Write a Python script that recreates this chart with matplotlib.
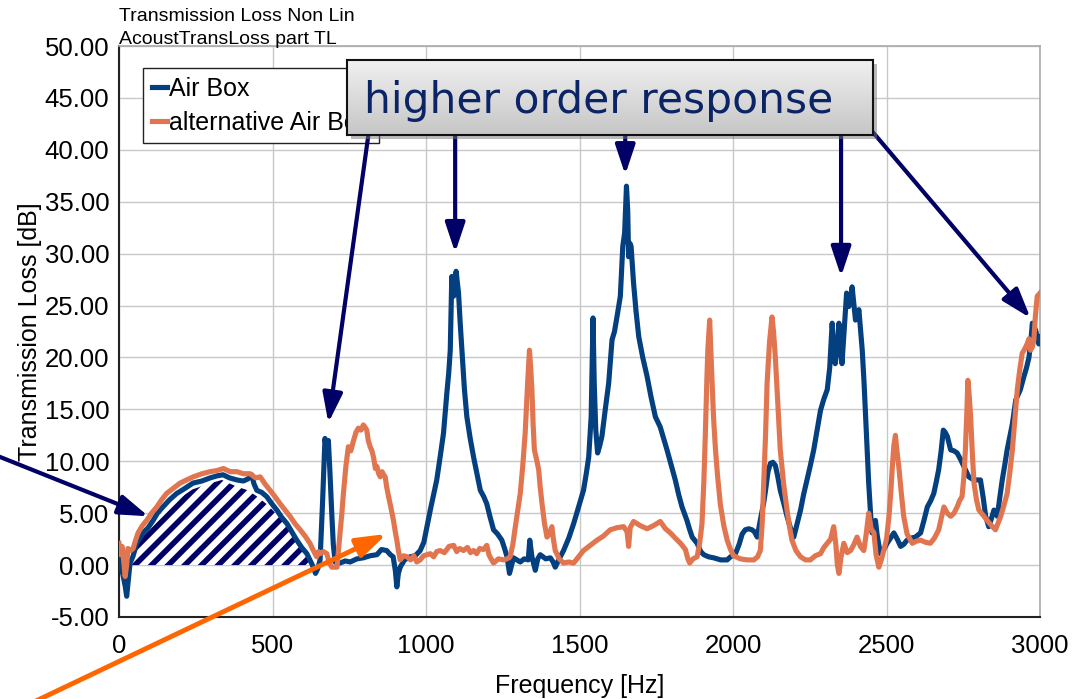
import matplotlib
matplotlib.use("Agg")
import matplotlib.pyplot as plt
import numpy as np
from matplotlib.colors import LinearSegmentedColormap
from matplotlib.patches import Rectangle, ArrowStyle

plt.rcParams['font.family'] = ['Liberation Sans', 'DejaVu Sans']
plt.rcParams['hatch.linewidth'] = 4.0

# Air Box curve (frequency in Hz, transmission loss in dB)
air_f = [0, 12, 20, 25, 30, 36, 45, 58, 78, 95, 111, 125, 143, 165, 188, 210, 241, 270, 297, 320,
         339, 360, 384, 405, 420, 432, 440, 449, 465, 481, 498, 514, 530, 547, 563, 579, 595, 612, 625, 633,
         640, 648, 655, 663, 671, 676, 682, 687, 693, 698, 704, 720, 737, 753, 775, 796, 818, 840, 855, 872,
         884, 893, 900, 905, 910, 916, 930, 948, 965, 981, 993, 1003, 1014, 1025, 1035, 1046, 1057, 1068, 1074, 1079,
         1084, 1090, 1098, 1106, 1111, 1117, 1125, 1133, 1144, 1155, 1166, 1177, 1188, 1198, 1209, 1220, 1233, 1247, 1257, 1264,
         1272, 1285, 1296, 1307, 1320, 1333, 1338, 1345, 1356, 1364, 1372, 1390, 1405, 1414, 1421, 1434, 1448, 1465, 1481, 1497,
         1513, 1522, 1530, 1538, 1544, 1548, 1553, 1559, 1566, 1573, 1584, 1595, 1606, 1614, 1622, 1633, 1641, 1647, 1653, 1657,
         1660, 1664, 1668, 1676, 1684, 1693, 1706, 1720, 1733, 1747, 1755, 1763, 1774, 1785, 1800, 1812, 1823, 1834, 1850, 1858,
         1867, 1883, 1895, 1905, 1920, 1937, 1960, 1981, 1992, 2008, 2020, 2030, 2040, 2051, 2062, 2070, 2079, 2090, 2100, 2106,
         2114, 2122, 2130, 2138, 2146, 2154, 2165, 2176, 2187, 2198, 2209, 2220, 2230, 2241, 2252, 2263, 2274, 2285, 2296, 2307,
         2315, 2323, 2328, 2333, 2340, 2345, 2350, 2355, 2362, 2370, 2377, 2383, 2388, 2394, 2399, 2405, 2410, 2416, 2421, 2427,
         2432, 2437, 2442, 2448, 2453, 2459, 2464, 2470, 2480, 2491, 2502, 2513, 2524, 2535, 2546, 2556, 2567, 2580, 2594, 2611,
         2622, 2633, 2644, 2654, 2662, 2670, 2678, 2685, 2691, 2698, 2709, 2720, 2730, 2741, 2752, 2760, 2768, 2779, 2790, 2806,
         2815, 2823, 2833, 2842, 2850, 2861, 2869, 2877, 2885, 2893, 2902, 2910, 2921, 2936, 2947, 2956, 2964, 2970, 2975, 2980,
         2986, 2996, 3000]
air_db = [0.5, -0.8, -2.0, -3.0, -1.5, 0.2, 0.8, 2.1, 3.1, 3.6, 4.3, 5.0, 5.6, 6.3, 6.9, 7.3, 7.9, 8.1, 8.4, 8.6,
          8.7, 8.4, 8.2, 8.1, 8.3, 8.7, 7.8, 7.2, 7.0, 6.6, 5.9, 5.3, 4.6, 4.0, 3.2, 2.4, 1.7, 1.1, 0.3, -0.2,
          -0.8, -0.3, 0.5, 6.0, 12.2, 11.0, 12.0, 9.0, 5.0, 2.0, 0.3, 0.2, 0.4, 0.3, 0.6, 0.7, 0.9, 1.0, 1.5, 1.4,
          1.0, 0.8, -0.5, -2.1, -0.8, -0.2, 0.5, 0.8, 0.9, 1.4, 2.2, 3.7, 5.3, 6.8, 8.2, 10.4, 12.7, 16.6, 18.5, 20.7,
          27.8, 25.9, 28.3, 26.2, 23.5, 20.7, 17.0, 14.3, 12.2, 10.4, 8.8, 7.2, 6.6, 5.9, 4.6, 3.4, 3.0, 2.4, 1.5, 0.8,
          -0.8, 0.7, 0.5, 0.3, 0.6, 0.5, 2.4, 0.8, -0.5, 0.6, 1.0, 0.6, 0.7, 0.3, -0.2, 0.6, 1.4, 2.6, 4.0, 5.6,
          7.2, 8.8, 10.4, 14.3, 23.8, 17.5, 13.0, 10.8, 11.5, 12.4, 15.0, 17.5, 21.7, 22.5, 23.9, 25.9, 30.7, 32.0, 36.5, 34.2,
          29.7, 31.0, 30.7, 27.2, 24.5, 22.0, 20.0, 18.2, 16.2, 14.3, 13.8, 13.3, 12.2, 11.1, 9.5, 8.2, 6.8, 5.6, 4.3, 3.5,
          2.7, 2.1, 1.3, 1.0, 0.8, 0.7, 0.5, 0.5, 0.8, 1.1, 2.0, 3.0, 3.4, 3.5, 3.4, 3.2, 2.7, 4.5, 6.0, 7.2,
          9.0, 9.8, 9.9, 9.6, 8.5, 7.2, 6.0, 4.7, 3.6, 2.7, 4.0, 5.3, 6.8, 8.2, 9.6, 11.1, 13.0, 14.9, 16.0, 16.9,
          19.0, 23.3, 21.0, 19.4, 21.0, 23.3, 21.0, 19.4, 22.5, 26.2, 24.9, 25.5, 26.8, 25.0, 23.6, 24.0, 24.6, 22.5, 20.7, 17.5,
          14.3, 11.0, 7.9, 5.0, 3.1, 3.5, 4.3, 2.8, 1.1, 1.5, 2.1, 2.6, 3.1, 2.5, 1.8, 2.0, 2.4, 2.6, 2.7, 3.1,
          4.3, 5.6, 6.2, 6.9, 8.0, 9.2, 11.0, 13.0, 12.8, 12.4, 11.1, 11.0, 10.8, 10.2, 9.5, 9.0, 8.5, 8.3, 8.2, 8.2,
          6.5, 4.7, 3.7, 4.5, 5.3, 4.7, 6.5, 8.2, 9.6, 11.1, 12.4, 13.6, 15.9, 16.9, 18.1, 19.0, 20.0, 21.5, 23.3, 23.0,
          22.6, 21.3, 22.0]

# alternative Air Box curve
alt_f = [0, 5, 10, 15, 20, 25, 29, 38, 46, 54, 62, 76, 90, 106, 123, 139, 155, 177, 199, 220,
         242, 270, 297, 318, 340, 362, 384, 405, 427, 445, 460, 476, 492, 508, 525, 541, 557, 573, 590, 606,
         622, 633, 644, 650, 655, 666, 677, 685, 693, 710, 715, 720, 726, 731, 739, 747, 755, 764, 772, 780,
         788, 796, 801, 807, 812, 818, 824, 829, 835, 840, 846, 851, 857, 862, 867, 872, 878, 886, 894, 900,
         905, 910, 916, 927, 938, 950, 960, 970, 981, 992, 1003, 1014, 1025, 1035, 1046, 1060, 1075, 1090, 1100, 1110,
         1122, 1135, 1145, 1155, 1165, 1175, 1187, 1198, 1205, 1212, 1220, 1236, 1253, 1264, 1274, 1283, 1291, 1300, 1307, 1315,
         1323, 1331, 1337, 1341, 1345, 1349, 1353, 1360, 1367, 1372, 1378, 1386, 1394, 1402, 1410, 1415, 1421, 1434, 1448, 1465,
         1481, 1497, 1513, 1535, 1557, 1578, 1600, 1622, 1644, 1655, 1660, 1665, 1676, 1698, 1720, 1741, 1763, 1780, 1796, 1812,
         1829, 1845, 1853, 1859, 1870, 1883, 1891, 1899, 1905, 1910, 1915, 1918, 1924, 1928, 1932, 1937, 1943, 1950, 1959, 1970,
         1981, 1992, 2002, 2024, 2046, 2068, 2080, 2089, 2095, 2100, 2106, 2111, 2119, 2127, 2132, 2138, 2146, 2154, 2165, 2176,
         2184, 2192, 2205, 2220, 2236, 2252, 2268, 2285, 2296, 2307, 2318, 2328, 2335, 2340, 2345, 2352, 2361, 2372, 2383, 2394,
         2404, 2415, 2426, 2434, 2442, 2450, 2459, 2466, 2475, 2483, 2491, 2500, 2508, 2514, 2519, 2524, 2529, 2534, 2540, 2548,
         2556, 2567, 2584, 2597, 2611, 2627, 2643, 2656, 2670, 2679, 2687, 2698, 2709, 2720, 2730, 2738, 2746, 2752, 2757, 2762,
         2765, 2769, 2774, 2780, 2785, 2793, 2801, 2815, 2828, 2842, 2855, 2863, 2872, 2883, 2893, 2902, 2910, 2918, 2926, 2934,
         2942, 2950, 2958, 2964, 2969, 2975, 2980, 2985, 2991, 3000]
alt_db = [2.1, 1.0, 1.8, 0.5, -1.1, 0.0, 1.6, 1.4, 1.6, 2.4, 3.1, 3.8, 4.3, 5.0, 5.6, 6.3, 6.9, 7.4, 7.9, 8.2,
          8.5, 8.8, 9.0, 9.1, 9.3, 9.0, 9.0, 8.8, 8.8, 8.4, 8.5, 7.8, 7.2, 6.6, 5.9, 5.3, 4.7, 4.0, 3.4, 2.8,
          2.1, 1.4, 0.8, 1.3, 1.1, 1.3, 1.1, 0.2, -0.2, -0.2, 1.5, 3.1, 5.0, 6.9, 9.5, 11.4, 11.0, 12.0, 12.8, 13.2,
          13.0, 13.5, 13.3, 13.0, 12.0, 11.4, 11.0, 10.4, 9.3, 9.5, 8.8, 8.5, 9.0, 8.7, 8.5, 7.5, 6.6, 5.5, 4.3, 3.2,
          2.4, 1.4, 0.5, 0.9, 0.8, 0.5, 0.9, 0.3, 0.5, 0.9, 1.0, 1.1, 0.8, 1.3, 1.4, 1.2, 1.8, 1.9, 1.3, 1.6,
          1.4, 1.7, 1.2, 1.4, 1.1, 1.6, 1.5, 1.9, 1.0, 0.6, 0.2, 0.6, 0.5, 0.6, 0.8, 2.0, 3.7, 5.5, 6.9, 9.5,
          12.7, 17.5, 20.7, 19.0, 16.9, 13.5, 11.1, 10.2, 9.2, 7.5, 5.9, 4.0, 2.7, 3.0, 3.7, 2.5, 1.4, 0.6, 0.2, 0.3,
          0.2, 0.8, 1.4, 1.9, 2.4, 2.8, 3.4, 3.6, 3.7, 3.2, 1.8, 3.6, 4.2, 3.8, 3.5, 3.8, 4.2, 3.5, 3.1, 2.6,
          2.1, 1.5, 0.6, 0.2, 0.6, 0.8, 2.0, 4.0, 8.0, 12.7, 18.0, 20.7, 23.6, 20.5, 17.5, 14.0, 11.1, 8.5, 5.8, 3.8,
          2.4, 1.5, 0.9, 0.6, 0.5, 0.5, 0.8, 1.4, 4.0, 7.9, 12.5, 17.5, 21.5, 23.9, 22.5, 20.0, 15.5, 11.1, 7.8, 5.3,
          3.7, 2.4, 1.4, 0.8, 0.5, 0.5, 0.9, 1.1, 1.7, 2.1, 2.5, 3.7, 2.0, 0.0, -0.8, 0.8, 2.1, 1.2, 1.4, 2.0,
          2.7, 1.8, 1.4, 3.0, 5.0, 3.5, 3.1, 1.0, -0.2, 0.5, 1.4, 2.5, 4.7, 7.0, 9.5, 11.5, 12.5, 11.0, 9.5, 7.0,
          4.7, 3.0, 2.1, 2.3, 2.4, 2.2, 2.1, 2.6, 3.4, 4.6, 5.6, 5.0, 4.7, 5.0, 5.6, 6.2, 6.6, 8.5, 11.1, 15.0,
          17.8, 16.5, 14.3, 10.5, 7.9, 6.3, 5.3, 4.8, 4.3, 3.8, 3.4, 4.0, 4.7, 5.8, 6.9, 9.0, 11.1, 14.0, 16.9, 18.8,
          20.4, 20.8, 21.3, 21.8, 20.7, 21.0, 21.7, 24.0, 25.9, 26.2]

# hatched area under the first Air Box hump
hatch_f = [42, 60, 80, 100, 120, 140, 160, 185, 210, 240, 270, 300, 335, 380, 420, 450, 480, 510, 540, 570, 600, 628]
hatch_db = [0, 1.8, 2.9, 3.4, 4.1, 5.0, 5.5, 6.2, 6.7, 7.3, 7.6, 7.9, 8.2, 7.6, 7.2, 6.6, 5.9, 5.0, 4.0, 2.9, 1.6, 0]

x_ticks = [0, 500, 1000, 1500, 2000, 2500, 3000]
y_ticks = [-5, 0, 5, 10, 15, 20, 25, 30, 35, 40, 45, 50]

# arrows: (tip freq, tip dB, tail freq, tail dB)
peak_arrows = [(682, 13.7, 815, 42), (1095, 30.1, 1095, 42), (1649, 37.6, 1649, 42),
               (2352, 27.8, 2352, 42), (2969, 23.8, 2447, 42)]

blue = '#043f7f'
orange = '#e07550'
navy = '#000066'

W, H = 1081, 699
fig = plt.figure(figsize=(W / 100, H / 100), dpi=100)
ax = fig.add_axes([119 / W, 1 - 617 / H, 921 / W, 571 / H])

ax.fill(hatch_f, hatch_db, facecolor='white', edgecolor=navy, linewidth=0, hatch='//', zorder=2)
ax.plot(air_f, air_db, color=blue, lw=3.7, label='Air Box', zorder=3, solid_joinstyle='round')
ax.plot(alt_f, alt_db, color=orange, lw=3.7, label='alternative Air Box', zorder=4, solid_joinstyle='round')

ax.set_xlim(0, 3000)
ax.set_ylim(-5, 50)
ax.set_xticks(x_ticks)
ax.set_yticks(y_ticks)
ax.set_yticklabels([f'{v:.2f}' for v in y_ticks])
ax.tick_params(length=0, labelsize=18.5, pad=7)
ax.tick_params(axis='x', pad=12)
ax.grid(True, color='#c8c8c8', lw=1)
ax.set_axisbelow(True)
for s in ['left', 'bottom']:
    ax.spines[s].set_color('#222222')
    ax.spines[s].set_linewidth(1.5)
for s in ['top', 'right']:
    ax.spines[s].set_color('#aaaaaa')
    ax.spines[s].set_linewidth(1.2)
ax.set_xlabel('Frequency [Hz]', fontsize=18, labelpad=12)
ax.set_ylabel('Transmission Loss [dB]', fontsize=18, labelpad=2)

leg = ax.legend(loc='upper left', bbox_to_anchor=(0.026, 0.9615), borderaxespad=0,
                fontsize=18, handlelength=0.6, handletextpad=0.1, borderpad=0.35,
                labelspacing=0.4, fancybox=False, framealpha=1)
leg.get_frame().set_edgecolor('#222222')
leg.get_frame().set_linewidth(1.0)
leg.set_zorder(5)

fig.text(119 / W, 1 - 21 / H, 'Transmission Loss Non Lin', fontsize=14, va='baseline', ha='left')
fig.text(119 / W, 1 - 44 / H, 'AcoustTransLoss part TL', fontsize=14, va='baseline', ha='left')

head = ArrowStyle('-|>', head_length=0.9, head_width=0.3)
for tx, ty, sx, sy in peak_arrows:
    ax.annotate('', xy=(tx, ty), xytext=(sx, sy),
                arrowprops=dict(arrowstyle=head, color=navy, lw=3, mutation_scale=20,
                                shrinkA=0, shrinkB=0), zorder=6)
ax.annotate('', xy=(96, 4.7), xytext=(-420, 10.8), annotation_clip=False,
            arrowprops=dict(arrowstyle=head, color=navy, lw=3, mutation_scale=20,
                            shrinkA=0, shrinkB=0, clip_on=False), zorder=6)
ax.annotate('', xy=(872, 3.0), xytext=(-300, -13.5), annotation_clip=False,
            arrowprops=dict(arrowstyle=head, color='#ff6600', lw=3.5, mutation_scale=20,
                            shrinkA=0, shrinkB=0, clip_on=False), zorder=6)

# callout box with gradient
bx, by, bw, bh = 347, 60, 526, 75
fig.patches.append(Rectangle(((bx + 4) / W, 1 - (by + bh + 4) / H), bw / W, bh / H,
                             transform=fig.transFigure, facecolor='#777777', alpha=0.5,
                             edgecolor='none', zorder=2))
box = fig.add_axes([bx / W, 1 - (by + bh) / H, bw / W, bh / H])
box.set_zorder(3)
grad = np.linspace(0, 1, 100).reshape(-1, 1)
cmap = LinearSegmentedColormap.from_list('g', ['#f0f0f0', '#c6c6c6'])
box.imshow(grad, aspect='auto', cmap=cmap, extent=[0, 1, 0, 1], origin='upper')
box.set_xticks([])
box.set_yticks([])
for s in box.spines.values():
    s.set_color('#111111')
    s.set_linewidth(1.5)
box.text(0.033, 0.45, 'higher order response', fontsize=30.5, color='#0b2466',
         family='DejaVu Sans', va='center', ha='left', transform=box.transAxes)

fig.savefig('out.png', dpi=100)
